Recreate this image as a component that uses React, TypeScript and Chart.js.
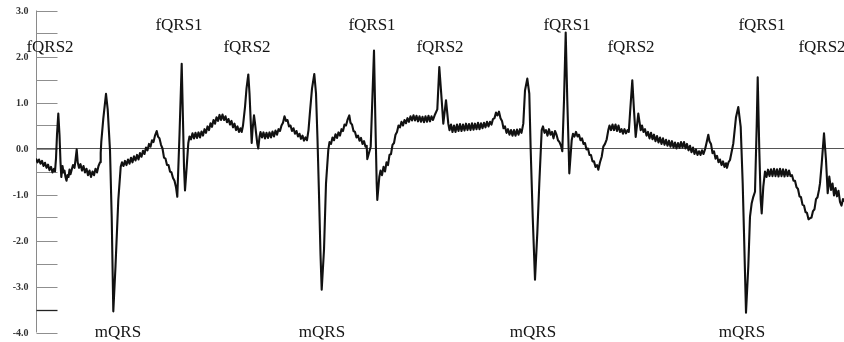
import React, { useEffect, useRef } from 'react';
import { Chart, registerables } from 'chart.js';

Chart.register(...registerables);

// Recorded abdominal ECG strip: [sample, amplitude in mV], split by stretch of the strip
const stripPart1: [number, number][] = [
  [0, -0.22], [1.5, -0.30], [3, -0.24], [4.5, -0.33], [6, -0.27], [7.5, -0.38], [9, -0.31], [10.5, -0.42],
  [12, -0.35], [13.5, -0.47], [15, -0.40], [16.5, -0.52], [18, -0.44], [19, -0.50], [20, -0.22], [21, 0.30],
  [22.3, 0.76], [23.5, 0.30], [24.5, -0.30], [25.3, -0.62], [26.5, -0.38], [27.5, -0.52], [28.5, -0.48], [29.5, -0.62],
  [30.5, -0.70], [31.5, -0.58], [32.5, -0.62], [33.5, -0.46], [34.5, -0.56], [35.5, -0.48], [37, -0.36], [38.5, -0.42],
  [39.5, -0.25], [40.7, -0.02], [41.7, -0.30], [43, -0.42], [44.5, -0.34], [46, -0.48], [47.5, -0.38], [49, -0.52],
  [50.5, -0.44], [52, -0.58], [53.5, -0.48], [55, -0.62], [56.5, -0.50], [58, -0.58], [59.5, -0.44], [61, -0.52],
  [62.5, -0.38], [64, -0.30], [64.7, -0.10], [65.3, 0.15], [67.3, 0.65], [70, 1.19], [71.7, 0.85], [74, -0.04],
  [75.7, -1.48], [77.3, -3.54], [79.5, -2.56], [82.3, -1.12], [84.7, -0.40], [86, -0.30], [87.5, -0.38], [89, -0.27],
  [90.5, -0.36], [92, -0.24], [93.5, -0.33], [95, -0.20], [96.5, -0.30], [98, -0.17], [99.5, -0.26], [101, -0.14],
  [102.5, -0.24], [104, -0.10], [105.5, -0.18], [107, -0.05], [108.5, -0.12], [110, 0.02], [111.5, -0.04], [113, 0.10],
  [114.5, 0.04], [116, 0.18], [117.5, 0.14], [119, 0.28], [120.7, 0.38], [122, 0.26], [123.5, 0.22], [125, 0.08],
  [126.5, 0.00], [128, -0.20], [129.5, -0.22], [131, -0.36], [132.5, -0.36], [134, -0.50], [135.5, -0.52], [137, -0.64],
  [138.5, -0.70], [140, -0.84], [141.3, -1.05], [143.5, 0.30], [145.7, 1.84], [147, 0.60], [148, -0.40], [149, -0.91],
  [150.7, -0.40], [152.3, 0.12],
];

const stripPart2: [number, number][] = [
  [153.5, 0.26], [155, 0.20], [156.5, 0.33], [158, 0.22], [159.5, 0.34], [161, 0.23], [162.5, 0.35], [164, 0.24],
  [165.5, 0.37], [167, 0.28], [168.5, 0.42], [170, 0.34], [171.5, 0.48], [173, 0.40], [174.5, 0.55], [176, 0.47],
  [177.5, 0.62], [179, 0.54], [180.5, 0.68], [182, 0.60], [183.5, 0.73], [185, 0.62], [186.5, 0.74], [188, 0.62],
  [189.5, 0.70], [191, 0.57], [192.5, 0.64], [194, 0.52], [195.5, 0.60], [197, 0.46], [198.5, 0.54], [200, 0.40],
  [201.5, 0.48], [203, 0.36], [204.5, 0.44], [205.7, 0.36], [207, 0.50], [209, 0.90], [210.5, 1.30], [212.3, 1.61],
  [213.5, 1.20], [214.7, 0.60], [215.7, 0.12], [216.5, 0.40], [218, 0.72], [219, 0.55], [220, 0.35], [221.3, 0.10],
  [222.3, 0.00], [223.5, 0.25], [224.5, 0.36], [226, 0.24], [227.5, 0.35], [229, 0.22], [230.5, 0.34], [232, 0.23],
  [233.5, 0.35], [235, 0.24], [236.5, 0.37], [238, 0.26], [239.5, 0.39], [241, 0.30], [242.5, 0.42], [244, 0.38],
  [245.5, 0.50], [247, 0.56], [248.5, 0.70], [250, 0.60], [251.5, 0.62], [253, 0.48], [254.5, 0.50], [256, 0.38],
  [257.5, 0.44], [259, 0.32], [260.5, 0.38], [262, 0.26], [263.5, 0.32], [265, 0.21], [266.5, 0.28], [268, 0.17],
  [269.5, 0.24], [271, 0.18], [272.5, 0.40], [274, 0.80], [276, 1.30], [278.3, 1.62], [280, 1.20], [281.5, 0.20],
  [283, -1.00], [284.5, -2.30], [285.7, -3.07], [288, -2.20], [290, -0.76], [292.3, -0.03], [293.5, 0.14], [295, 0.10],
  [296.5, 0.24], [298, 0.18], [299.5, 0.31], [301, 0.23], [302.5, 0.35], [304, 0.28], [305.5, 0.42], [307, 0.38],
  [308.5, 0.52], [310, 0.50], [311.5, 0.62], [313.3, 0.72], [314.5, 0.56], [316, 0.52], [317.5, 0.38], [319, 0.36],
  [320.5, 0.24], [322, 0.28], [323.5, 0.17], [325, 0.23], [326.5, 0.10], [328, 0.16], [329.5, 0.04], [330.7, 0.06],
  [331.3, -0.23], [334.7, 0.04],
];

const stripPart3: [number, number][] = [
  [336.3, 1.04], [338, 2.13], [339.3, 0.68], [340.7, -0.76], [341.3, -1.12], [343.3, -0.62], [344.5, -0.48], [346, -0.58],
  [347.5, -0.40], [349, -0.50], [350.5, -0.30], [352, -0.36], [353.5, -0.14], [355, -0.12], [356.5, 0.08], [358, 0.12],
  [359.5, 0.30], [361, 0.36], [362.5, 0.50], [364, 0.46], [365.5, 0.58], [367, 0.50], [368.5, 0.62], [370, 0.55],
  [371.5, 0.66], [373, 0.58], [374.5, 0.70], [376, 0.61], [377.5, 0.72], [379, 0.61], [380.5, 0.71], [382, 0.59],
  [383.5, 0.70], [385, 0.58], [386.5, 0.69], [388, 0.57], [389.5, 0.70], [391, 0.58], [392.5, 0.71], [394, 0.59],
  [395.5, 0.70], [397, 0.62], [399, 0.74], [401.3, 0.85], [403.3, 1.77], [405.7, 1.05], [407.3, 0.54], [410, 1.05],
  [412.3, 0.54], [413.5, 0.40], [415, 0.52], [416.5, 0.36], [418, 0.50], [419.5, 0.36], [421, 0.52], [422.5, 0.38],
  [424, 0.53], [425.5, 0.38], [427, 0.52], [428.5, 0.39], [430, 0.54], [431.5, 0.40], [433, 0.53], [434.5, 0.40],
  [436, 0.55], [437.5, 0.41], [439, 0.54], [440.5, 0.42], [442, 0.56], [443.5, 0.42], [445, 0.55], [446.5, 0.44],
  [448, 0.56], [449.5, 0.46], [451, 0.58], [452.5, 0.48], [454, 0.58], [455.5, 0.52], [457, 0.64], [458.5, 0.66],
  [460, 0.78], [461.5, 0.72], [463, 0.80], [464.5, 0.66], [466, 0.60], [467.5, 0.44], [469, 0.48], [470.5, 0.34],
  [472, 0.42], [473.5, 0.30], [475, 0.40], [476.5, 0.28], [478, 0.40], [479.5, 0.28], [481, 0.41], [482.5, 0.30],
  [484, 0.42], [485.5, 0.34], [487.3, 0.54], [489, 1.26], [491.3, 1.52], [493.3, 1.19], [494.7, -0.04], [496.7, -1.48],
  [499, -2.85], [501.3, -1.84], [503.3, -0.76], [505.7, 0.40], [507, 0.48], [508.5, 0.34], [510, 0.40], [511.5, 0.28],
  [513, 0.42], [514.5, 0.30], [516, 0.36], [517.5, 0.22], [519, 0.38], [520.5, 0.30], [522, 0.18], [523.5, 0.14],
  [525, 0.06], [526.3, -0.06], [528, 1.04], [529.7, 2.52], [531.3, 1.04], [532.7, -0.04], [533.3, -0.54],
];

const stripPart4: [number, number][] = [
  [535.7, 0.18], [537, 0.32], [538.5, 0.26], [540, 0.36], [541.5, 0.26], [543, 0.30], [544.5, 0.18], [546, 0.22],
  [547.5, 0.10], [549, 0.12], [550.5, -0.02], [552, 0.00], [553.5, -0.14], [555, -0.14], [556.5, -0.28], [558, -0.28],
  [559.5, -0.40], [561, -0.36], [562.3, -0.46], [564, -0.30], [565.7, -0.18], [567.3, 0.04], [569, 0.10], [570.7, 0.20],
  [572.3, 0.40], [573.5, 0.50], [575, 0.40], [576.5, 0.52], [578, 0.40], [579.5, 0.52], [581, 0.38], [582.5, 0.50],
  [584, 0.36], [585.5, 0.42], [587, 0.32], [588.5, 0.42], [590, 0.33], [591.5, 0.40], [592.8, 0.36], [594, 0.76],
  [596.3, 1.48], [598, 0.83], [599.7, 0.25], [602.3, 0.76], [604.7, 0.40], [606, 0.50], [607.5, 0.36], [609, 0.42],
  [610.5, 0.28], [612, 0.36], [613.5, 0.22], [615, 0.34], [616.5, 0.20], [618, 0.30], [619.5, 0.16], [621, 0.27],
  [622.5, 0.13], [624, 0.24], [625.5, 0.10], [627, 0.22], [628.5, 0.08], [630, 0.19], [631.5, 0.06], [633, 0.17],
  [634.5, 0.04], [636, 0.16], [637.5, 0.02], [639, 0.13], [640.5, 0.00], [642, 0.12], [643.5, 0.01], [645, 0.14],
  [646.5, 0.02], [648, 0.14], [649.5, 0.00], [651, 0.10], [652.5, -0.04], [654, 0.06], [655.5, -0.08], [657, 0.02],
  [658.5, -0.12], [660, -0.02], [661.5, -0.14], [663, -0.06], [664.5, -0.14], [666, -0.04], [667.5, -0.12], [669, -0.02],
  [670.5, 0.12], [672.3, 0.30], [673.5, 0.16], [675, 0.10], [676.5, -0.10], [678, -0.06], [679.5, -0.22], [681, -0.16],
  [682.5, -0.30], [684, -0.24], [685.5, -0.36], [687, -0.28], [688.5, -0.40], [690, -0.32], [691, -0.42], [692.5, -0.30],
  [694, -0.25], [697.3, 0.11], [700, 0.68], [702.3, 0.90], [704.7, 0.47], [706.7, -0.76], [708, -1.84], [710, -3.57],
  [712.3, -2.56], [714, -1.48], [715.7, -1.19], [717.3, -1.05], [719, -0.94], [720.7, 0.50], [721.7, 1.55], [723.3, -0.04],
  [724.7, -1.12], [725.7, -1.41], [727.3, -0.83], [729, -0.50],
];

const stripPart5: [number, number][] = [
  [730.5, -0.62], [732, -0.46], [733.5, -0.60], [735, -0.45], [736.5, -0.60], [738, -0.44], [739.5, -0.60], [741, -0.45],
  [742.5, -0.61], [744, -0.44], [745.5, -0.60], [747, -0.45], [748.5, -0.61], [750, -0.46], [751.5, -0.60], [753, -0.48],
  [754.5, -0.60], [756, -0.58], [757.5, -0.70], [759, -0.70], [760.5, -0.84], [762, -0.88], [763.5, -1.04], [765, -1.06],
  [766.5, -1.22], [768, -1.24], [769.5, -1.38], [771, -1.40], [772.5, -1.54], [773.8, -1.52], [775.5, -1.50], [777, -1.36],
  [778.5, -1.32], [780, -1.10], [781.5, -1.06], [783, -0.90], [784, -0.76], [785.7, -0.33], [788, 0.33], [790, -0.25],
  [791.7, -0.97], [793.3, -0.61], [795, -0.90], [796.5, -0.76], [798, -1.02], [799.5, -0.86], [801, -1.04], [802.5, -0.92],
  [804, -1.16], [805.5, -1.24], [807, -1.10], [808, -1.16],
];

const yTickValues: number[] = [3, 2, 1, 0, -1, -2, -3, -4];
const yTickLabels: string[] = ['3.0', '2.0', '1.0', '0.0', '-1.0', '-2.0', '-3.0', '-4.0'];
const yMinorTickValues: number[] = [2.5, 1.5, 0.5, -0.5, -1.5, -2.5, -3.5];

const peakLabelText: string[] = [
  'fQRS2', 'mQRS', 'fQRS1', 'fQRS2',
  'mQRS', 'fQRS1', 'fQRS2',
  'mQRS', 'fQRS1', 'fQRS2',
  'mQRS', 'fQRS1', 'fQRS2',
];
const peakLabelSample: number[] = [
  14, 82, 143, 211,
  286, 336, 404,
  497, 531, 595,
  706, 726, 786,
];
const peakLabelLevel: number[] = [
  2.2, -3.99, 2.68, 2.2,
  -3.99, 2.68, 2.2,
  -3.99, 2.68, 2.2,
  -3.99, 2.68, 2.2,
];

const ecgAxisPlugin = {
  id: 'ecgAxis',
  beforeDatasetsDraw(chart: any) {
    const { ctx, chartArea, scales } = chart;
    const y = scales.y;
    ctx.save();
    const y0 = y.getPixelForValue(0);
    ctx.strokeStyle = '#555555';
    ctx.lineWidth = 1.2;
    ctx.beginPath();
    ctx.moveTo(chartArea.left, y0);
    ctx.lineTo(chartArea.right, y0);
    ctx.stroke();

    const ax = Math.round(chartArea.left) + 0.5;
    ctx.strokeStyle = '#8a8a8a';
    ctx.lineWidth = 1;
    ctx.beginPath();
    ctx.moveTo(ax, y.getPixelForValue(yTickValues[0]));
    ctx.lineTo(ax, y.getPixelForValue(yTickValues[yTickValues.length - 1]));
    ctx.stroke();

    const allTicks = [...yTickValues, ...yMinorTickValues];
    allTicks.forEach((v) => {
      const py = Math.round(y.getPixelForValue(v)) + 0.5;
      ctx.strokeStyle = v === -3.5 ? '#222222' : '#8f8f8f';
      ctx.lineWidth = v === -3.5 ? 1.3 : 1;
      ctx.beginPath();
      ctx.moveTo(ax, py);
      ctx.lineTo(ax + 21, py);
      ctx.stroke();
    });

    ctx.fillStyle = '#333333';
    ctx.font = 'bold 10px "Liberation Serif", serif';
    ctx.textAlign = 'right';
    ctx.textBaseline = 'middle';
    yTickValues.forEach((v, i) => {
      ctx.fillText(yTickLabels[i], ax - 8, y.getPixelForValue(v) + 1);
    });
    ctx.restore();
  },
  afterDatasetsDraw(chart: any) {
    const { ctx, scales } = chart;
    ctx.save();
    ctx.fillStyle = '#141414';
    ctx.font = '17px "Liberation Serif", serif';
    ctx.textAlign = 'center';
    ctx.textBaseline = 'middle';
    peakLabelText.forEach((t, i) => {
      ctx.fillText(t, scales.x.getPixelForValue(peakLabelSample[i]), scales.y.getPixelForValue(peakLabelLevel[i]));
    });
    ctx.restore();
  },
};

export default function App() {
  const canvasRef = useRef<HTMLCanvasElement | null>(null);

  useEffect(() => {
    document.body.style.margin = '0';
    document.body.style.background = '#ffffff';
    const canvas = canvasRef.current;
    if (!canvas) return;
    const strip = [...stripPart1, ...stripPart2, ...stripPart3, ...stripPart4, ...stripPart5];
    const points = strip.map(([t, mv]) => ({ x: t, y: mv }));
    const chart = new Chart(canvas, {
      type: 'line',
      data: {
        datasets: [
          {
            data: points,
            borderColor: '#111111',
            borderWidth: 2.1,
            pointRadius: 0,
            tension: 0,
            borderJoinStyle: 'round',
            fill: false,
          },
        ],
      },
      options: {
        animation: false,
        responsive: false,
        devicePixelRatio: 1,
        layout: { padding: { left: 36, right: 0, top: 10.5, bottom: 9.5 } },
        plugins: {
          legend: { display: false },
          tooltip: { enabled: false },
        },
        scales: {
          x: { type: 'linear', min: 0, max: 808, display: false },
          y: { type: 'linear', min: -4, max: 3, display: false },
        },
      },
      plugins: [ecgAxisPlugin],
    });
    return () => chart.destroy();
  }, []);

  return (
    <div style={{ width: 844, height: 342, background: '#ffffff' }}>
      <canvas ref={canvasRef} width={844} height={342} style={{ display: 'block' }} />
    </div>
  );
}
